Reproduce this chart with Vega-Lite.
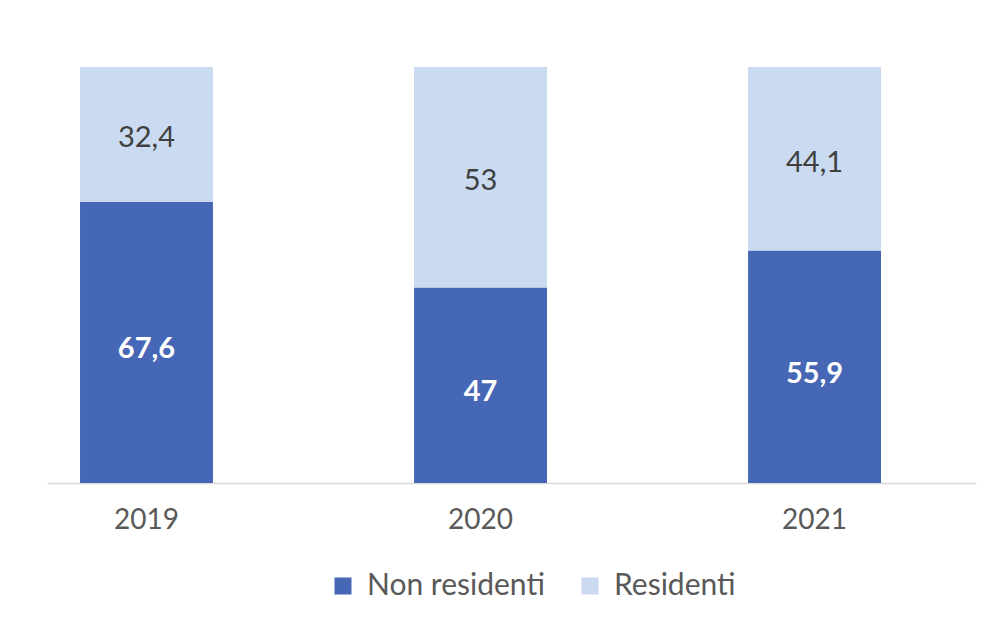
{
  "$schema": "https://vega.github.io/schema/vega-lite/v6.json",
  "width": 929,
  "height": 416,
  "autosize": {"type": "none"},
  "padding": {"left": 47, "top": 67, "right": 21, "bottom": 145},
  "background": "#ffffff",
  "config": {
    "view": {"stroke": null},
    "font": "Lato"
  },
  "data": {
    "values": [
      {"year": "2019", "group": "Non residenti", "ord": 1, "value": 67.6, "label": "67,6"},
      {"year": "2019", "group": "Residenti", "ord": 2, "value": 32.4, "label": "32,4"},
      {"year": "2020", "group": "Non residenti", "ord": 1, "value": 47, "label": "47"},
      {"year": "2020", "group": "Residenti", "ord": 2, "value": 53, "label": "53"},
      {"year": "2021", "group": "Non residenti", "ord": 1, "value": 55.9, "label": "55,9"},
      {"year": "2021", "group": "Residenti", "ord": 2, "value": 44.1, "label": "44,1"}
    ]
  },
  "transform": [
    {"stack": "value", "groupby": ["year"], "sort": [{"field": "ord"}], "as": ["v0", "v1"]},
    {"calculate": "(datum.v0 + datum.v1) / 2", "as": "mid"}
  ],
  "encoding": {
    "x": {
      "field": "year",
      "type": "nominal",
      "scale": {"paddingInner": 0.602, "paddingOuter": 0.1916, "align": 0.258},
      "axis": {
        "title": null,
        "labelAngle": 0,
        "labelFontSize": 28,
        "labelColor": "#595959",
        "labelPadding": 23,
        "ticks": false,
        "domainColor": "#d9d9d9",
        "domainWidth": 1.5
      }
    }
  },
  "layer": [
    {
      "mark": {"type": "bar"},
      "encoding": {
        "y": {"field": "v0", "type": "quantitative", "scale": {"domain": [0, 100]}, "axis": null},
        "y2": {"field": "v1"},
        "color": {
          "field": "group",
          "type": "nominal",
          "scale": {"domain": ["Non residenti", "Residenti"], "range": ["#4567b5", "#c9daf1"]},
          "legend": {
            "title": null,
            "orient": "none",
            "direction": "horizontal",
            "legendX": 281,
            "legendY": 504,
            "padding": 0,
            "symbolType": "square",
            "symbolSize": 289,
            "symbolStrokeWidth": 0,
            "labelFontSize": 30,
            "labelColor": "#595959",
            "labelLimit": 400,
            "labelOffset": 9,
            "columnPadding": 30
          }
        }
      }
    },
    {
      "transform": [{"filter": "datum.group === 'Non residenti'"}],
      "mark": {"type": "text", "fontSize": 29, "fontWeight": "bold", "color": "#ffffff", "baseline": "middle", "dy": 7},
      "encoding": {
        "y": {"field": "mid", "type": "quantitative", "scale": {"domain": [0, 100]}},
        "text": {"field": "label"}
      }
    },
    {
      "transform": [{"filter": "datum.group === 'Residenti'"}],
      "mark": {"type": "text", "fontSize": 29, "color": "#404040", "baseline": "middle", "dy": 4},
      "encoding": {
        "y": {"field": "mid", "type": "quantitative", "scale": {"domain": [0, 100]}},
        "text": {"field": "label"}
      }
    }
  ]
}
